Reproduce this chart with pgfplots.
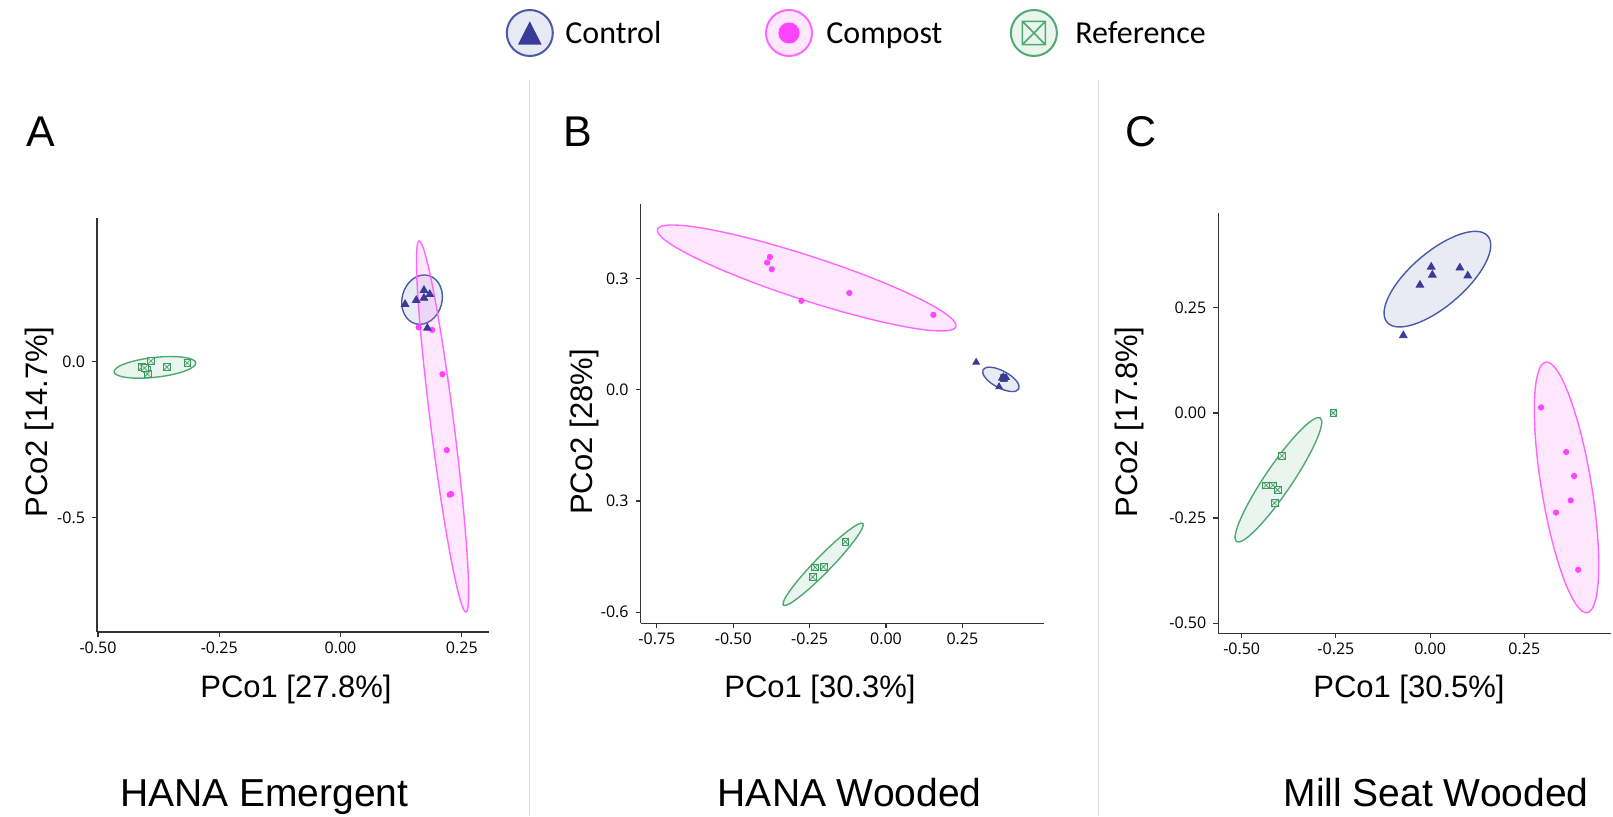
\documentclass[border=0pt]{standalone}
\usepackage{pgfplots}
\pgfplotsset{compat=1.18}
\usetikzlibrary{shapes.geometric}
\usepackage{fontspec}
\setmainfont{Liberation Sans}
\newfontfamily\tickfont{Open Sans}
\newfontfamily\legfont{Carlito}
\definecolor{ctrlMark}{HTML}{3A3A98}
\definecolor{ctrlLine}{HTML}{4A5AA8}
\definecolor{compMark}{HTML}{FF44FF}
\definecolor{compLine}{HTML}{FF66FF}
\definecolor{refMark}{HTML}{3D9A5E}
\definecolor{refLine}{HTML}{4DAA70}
\definecolor{refFill}{HTML}{E3F1E8}
\definecolor{axisgray}{HTML}{333333}
\definecolor{sepgray}{HTML}{DDDDDD}
\pgfdeclareplotmark{sqx}{%
  \pgfpathrectangle{\pgfpoint{-\pgfplotmarksize}{-\pgfplotmarksize}}{\pgfpoint{2\pgfplotmarksize}{2\pgfplotmarksize}}%
  \pgfusepathqfillstroke
  \pgfpathmoveto{\pgfpoint{-\pgfplotmarksize}{-\pgfplotmarksize}}\pgfpathlineto{\pgfpoint{\pgfplotmarksize}{\pgfplotmarksize}}%
  \pgfpathmoveto{\pgfpoint{-\pgfplotmarksize}{\pgfplotmarksize}}\pgfpathlineto{\pgfpoint{\pgfplotmarksize}{-\pgfplotmarksize}}%
  \pgfusepathqstroke}
\pgfplotsset{
  pcoa/.style={
    scale only axis, clip=false,
    axis x line=bottom, axis y line=left,
    axis line style={-, draw=axisgray, line width=0.75pt},
    every tick/.style={draw=axisgray, line width=0.6pt},
    tick align=outside, major tick length=2.5pt,
    tick label style={font=\tickfont\fontsize{8}{9.6}\selectfont, text=black},
    xticklabel style={yshift=1pt},
  },
  ctrl/.style={only marks, mark=triangle*, mark size=2.2pt, draw=ctrlMark, fill=ctrlMark},
  comp/.style={only marks, mark=*, mark size=1.35pt, draw=compMark, fill=compMark},
  refp/.style={only marks, mark=sqx, mark size=1.7pt, mark options={draw=refMark, fill=refFill, line width=0.3pt}},
}
\tikzset{
  ell/.style={ellipse, inner sep=0pt, outer sep=0pt, line width=0.7pt},
  ellC/.style={ell, draw=ctrlLine, fill=ctrlLine, fill opacity=0.13, draw opacity=1},
  ellP/.style={ell, draw=compLine, fill=compLine, fill opacity=0.15, draw opacity=1},
  ellR/.style={ell, draw=refLine, fill=refLine, fill opacity=0.12, draw opacity=1},
}
\begin{document}
\begin{tikzpicture}
\useasboundingbox (0,0) rectangle (806.5pt,408pt);
% separators
\draw[sepgray, line width=0.6pt] (264.9pt,0pt) -- (264.9pt,368pt);
\draw[sepgray, line width=0.6pt] (549.35pt,0pt) -- (549.35pt,368pt);

% ---------- Panel A ----------
\begin{axis}[pcoa, at={(48.5pt,92pt)}, anchor=south west, width=196pt, height=207pt,
  xmin=-0.502, xmax=0.306, ymin=-0.866, ymax=0.4606,
  xtick={-0.5,-0.25,0,0.25}, xticklabels={-0.50,-0.25,0.00,0.25},
  ytick={-0.5,0}, yticklabels={-0.5,0.0}]
\node[ellR, minimum width=41.1pt, minimum height=9.9pt, rotate=6.3] at (axis cs:-0.3826,-0.018) {};
\node[ellC, minimum width=25pt, minimum height=20pt, rotate=75] at (axis cs:0.168,0.199) {};
\node[ellP, minimum width=187pt, minimum height=11.6pt, rotate=97.2] at (axis cs:0.2103,-0.2077) {};
\addplot[refp] coordinates {(-0.409,-0.016) (-0.391,0.002) (-0.400,-0.024) (-0.398,-0.039) (-0.358,-0.017) (-0.316,-0.004) (-0.404,-0.020)};
\addplot[comp] coordinates {(0.161,0.110) (0.189,0.102) (0.210,-0.040) (0.219,-0.283) (0.225,-0.426) (0.228,-0.424)};
\addplot[ctrl] coordinates {(0.133,0.184) (0.156,0.197) (0.172,0.229) (0.184,0.216) (0.172,0.204) (0.179,0.108)};
\end{axis}

% ---------- Panel B ----------
\begin{axis}[pcoa, at={(320.35pt,96.35pt)}, anchor=south west, width=201.65pt, height=209.65pt,
  xmin=-0.803, xmax=0.517, ymin=-0.630, ymax=0.501,
  xtick={-0.75,-0.5,-0.25,0,0.25}, xticklabels={-0.75,-0.50,-0.25,0.00,0.25},
  ytick={-0.6,-0.3,0,0.3}, yticklabels={-0.6,0.3,0.0,0.3}]
\node[ellP, minimum width=157pt, minimum height=22pt, rotate=-18.06] at (axis cs:-0.2595,0.3015) {};
\node[ellC, minimum width=20.3pt, minimum height=8.5pt, rotate=-28.4] at (axis cs:0.376,0.028) {};
\node[ellR, minimum width=57pt, minimum height=8pt, rotate=45.8] at (axis cs:-0.206,-0.471) {};
\addplot[refp] coordinates {(-0.133,-0.410) (-0.232,-0.479) (-0.205,-0.478) (-0.240,-0.505) (0.384,0.033)};
\addplot[comp] coordinates {(-0.380,0.358) (-0.389,0.343) (-0.374,0.325) (-0.277,0.240) (-0.120,0.261) (0.155,0.202)};
\addplot[ctrl, mark size=1.9pt] coordinates {(0.295,0.074) (0.370,0.008) (0.384,0.035) (0.387,0.028) (0.379,0.031) (0.393,0.033)};
\end{axis}

% ---------- Panel C ----------
\begin{axis}[pcoa, at={(609.15pt,91.35pt)}, anchor=south west, width=196.35pt, height=210.3pt,
  xmin=-0.562, xmax=0.480, ymin=-0.524, ymax=0.476,
  xtick={-0.5,-0.25,0,0.25}, xticklabels={-0.50,-0.25,0.00,0.25},
  ytick={-0.5,-0.25,0,0.25}, yticklabels={-0.50,-0.25,0.00,0.25}]
\node[ellC, minimum width=66.3pt, minimum height=27.1pt, rotate=40.6] at (axis cs:0.0194,0.318) {};
\node[ellR, minimum width=74.7pt, minimum height=13.5pt, rotate=55.9] at (axis cs:-0.4025,-0.159) {};
\node[ellP, minimum width=127pt, minimum height=25pt, rotate=99.4] at (axis cs:0.362,-0.177) {};
\addplot[refp] coordinates {(-0.257,0.000) (-0.393,-0.102) (-0.435,-0.172) (-0.417,-0.172) (-0.405,-0.183) (-0.413,-0.214)};
\addplot[comp] coordinates {(0.2945,0.013) (0.361,-0.093) (0.382,-0.150) (0.373,-0.208) (0.334,-0.237) (0.393,-0.373)};
\addplot[ctrl] coordinates {(-0.071,0.184) (-0.027,0.304) (0.003,0.347) (0.006,0.328) (0.079,0.345) (0.100,0.326)};
\end{axis}

% axis labels
\begin{scope}[every node/.style={font=\fontsize{15.5}{18}\selectfont}]
\node at (148pt,63.5pt) {PCo1 [27.8\%]};
\node[rotate=90] at (19.5pt,197pt) {PCo2 [14.7\%]};
\node at (410pt,63.5pt) {PCo1 [30.3\%]};
\node[rotate=90] at (292pt,192pt) {PCo2 [28\%]};
\node at (704.5pt,63.5pt) {PCo1 [30.5\%]};
\node[rotate=90] at (564.75pt,197pt) {PCo2 [17.8\%]};
\end{scope}
% panel letters
\begin{scope}[every node/.style={font=\fontsize{21.5}{24}\selectfont}]
\node at (20.5pt,342.15pt) {A};
\node at (289pt,342.15pt) {B};
\node at (570.5pt,342.15pt) {C};
\end{scope}
% subtitles
\begin{scope}[every node/.style={font=\fontsize{19.5}{22}\selectfont, anchor=base, inner sep=0pt}]
\node at (132.2pt,4.9pt) {HANA Emergent};
\node at (424.85pt,4.9pt) {HANA Wooded};
\node at (718pt,4.9pt) {Mill Seat Wooded};
\end{scope}
% legend
\filldraw[draw=ctrlLine, fill=ctrlLine!13, line width=1pt] (264.9pt,391.5pt) circle (11.5pt);
\fill[ctrlMark] (259pt,385.7pt) -- (270.8pt,385.7pt) -- (264.9pt,397.4pt) -- cycle;
\node[anchor=base west, inner sep=0pt, font=\legfont\fontsize{16}{19}\selectfont] at (282.5pt,386pt) {Control};
\filldraw[draw=compLine, fill=compLine!15, line width=1pt] (394.5pt,391.5pt) circle (11.5pt);
\fill[compMark] (394.5pt,391.5pt) circle (5.3pt);
\node[anchor=base west, inner sep=0pt, font=\legfont\fontsize{16}{19}\selectfont] at (413pt,386pt) {Compost};
\filldraw[draw=refLine, fill=refLine!12, line width=1pt] (516.95pt,391.5pt) circle (11.5pt);
\draw[refLine, line width=0.8pt] (511.2pt,385.7pt) rectangle (522.7pt,397.3pt)
  (511.2pt,385.7pt) -- (522.7pt,397.3pt) (511.2pt,397.3pt) -- (522.7pt,385.7pt);
\node[anchor=base west, inner sep=0pt, font=\legfont\fontsize{16}{19}\selectfont] at (537.5pt,386pt) {Reference};
\end{tikzpicture}
\end{document}
